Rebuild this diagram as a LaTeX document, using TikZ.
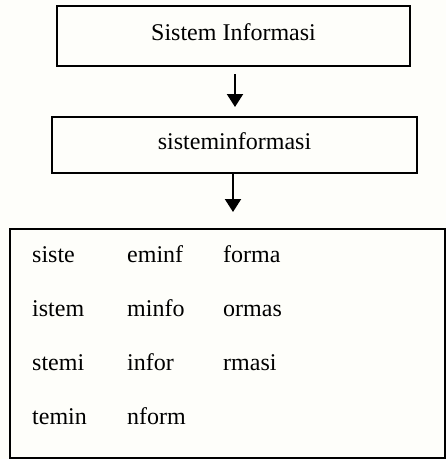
\documentclass[tikz,border=0pt]{standalone}
\usepackage{fontspec}
\setmainfont{Liberation Serif}
\usetikzlibrary{arrows.meta}
\definecolor{paper}{RGB}{254,254,250}
\begin{document}
\begin{tikzpicture}[x=1pt,y=-1pt,
  box/.style={draw=black, line width=2pt, fill=paper, inner sep=0pt},
  word/.style={anchor=base west, inner sep=0pt, font=\fontsize{24}{28}\selectfont},
  title/.style={font=\fontsize{24}{28}\selectfont},
  flow/.style={line width=2pt, -{Triangle[width=16pt,length=13pt]}}]
  % page
  \fill[paper] (0,0) rectangle (446,459);
  \useasboundingbox (0,0) rectangle (446,459);

  % stage boxes
  \node[box, minimum width=353pt, minimum height=60pt] (input) at (233.5,36) {};
  \node[title, anchor=base] (inputtxt) at (233.5,40) {Sistem Informasi};
  \node[box, minimum width=365pt, minimum height=56pt] (joined) at (234.5,145) {};
  \node[title, anchor=base] (joinedtxt) at (234.5,149) {sisteminformasi};
  \node[box, minimum width=435pt, minimum height=229pt] (grams) at (227.5,343.5) {};

  % connectors
  \draw[flow, shorten <=7pt, shorten >=9pt] ([xshift=1.5pt]input.south) -- ([xshift=0.5pt]joined.north);
  \draw[flow, shorten >=16pt] ([xshift=-1.5pt]joined.south) -- ([xshift=-1.5pt]joined.south |- grams.north);

  % 5-grams
  \node[word] (g1)  at (32,262) {siste};
  \node[word] (g2)  at (32,316) {istem};
  \node[word] (g3)  at (32,370) {stemi};
  \node[word] (g4)  at (32,424) {temin};
  \node[word] (g5)  at (127,262) {eminf};
  \node[word] (g6)  at (127,316) {minfo};
  \node[word] (g7)  at (127,370) {infor};
  \node[word] (g8)  at (127,424) {nform};
  \node[word] (g9)  at (223,262) {forma};
  \node[word] (g10) at (223,316) {ormas};
  \node[word] (g11) at (223,370) {rmasi};
\end{tikzpicture}
\end{document}
